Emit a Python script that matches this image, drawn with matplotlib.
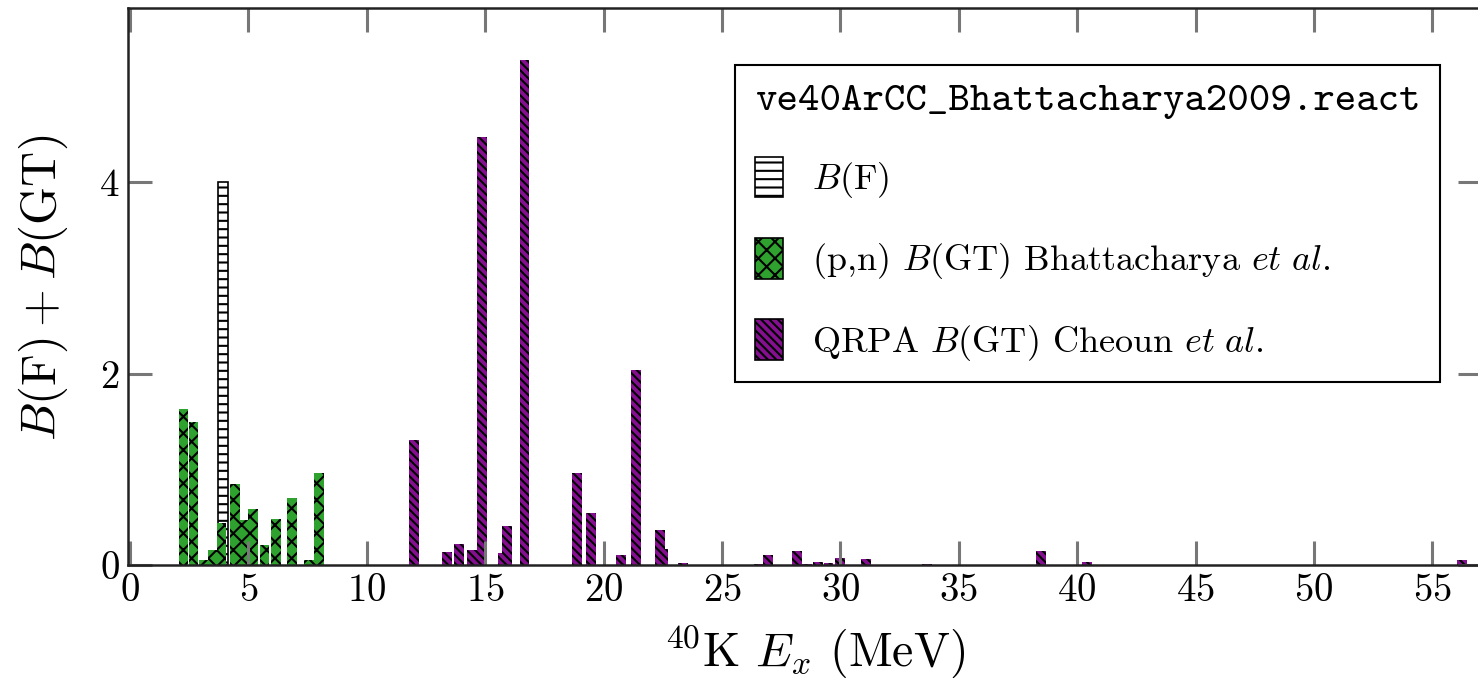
import numpy as np
import matplotlib
matplotlib.use("Agg")
import matplotlib.pyplot as plt
from matplotlib.patches import Patch

plt.rcParams["font.family"] = "serif"
plt.rcParams["font.serif"] = ["cmr10", "DejaVu Serif"]
plt.rcParams["mathtext.fontset"] = "cm"
plt.rcParams["axes.formatter.use_mathtext"] = True
plt.rcParams["hatch.linewidth"] = 1.5

# ---- datos ----
# B(F)
ex_f = [3.94]
b_f = [4.0]

# (p,n) B(GT) Bhattacharya et al.
ex_pn = [2.25, 2.69, 3.11, 3.48, 3.87, 4.43, 4.83, 5.20, 5.68, 6.16, 6.85, 7.55, 7.98]
bgt_pn = [1.63, 1.49, 0.05, 0.16, 0.44, 0.85, 0.47, 0.58, 0.21, 0.48, 0.70, 0.05, 0.96]

# QRPA B(GT) Cheoun et al.
ex_qrpa = [11.99, 13.40, 13.90, 14.44, 14.87, 15.75, 15.94, 16.66, 18.86, 19.45,
           20.75, 21.38, 22.39, 22.52, 23.36, 24.20, 26.58, 26.95, 28.18, 28.60,
           29.07, 29.50, 29.98, 31.10, 33.68, 38.46, 40.40, 49.00, 56.24]
bgt_qrpa = [1.31, 0.14, 0.22, 0.16, 4.47, 0.13, 0.41, 5.28, 0.96, 0.54,
            0.10, 2.04, 0.37, 0.17, 0.02, 0.005, 0.01, 0.10, 0.15, 0.01,
            0.03, 0.02, 0.07, 0.06, 0.014, 0.15, 0.035, 0.005, 0.05]

verde = "#2ea12e"
morado = "#84108f"
ancho = 0.42

fig = plt.figure(figsize=(14.78, 6.84), dpi=100)
ax = fig.add_axes([128 / 1478, 1 - 565 / 684, 1354 / 1478, 557 / 684])

# B(F) primero (blanco), luego verde encima
ax.bar(ex_f, b_f, width=ancho, color="white", edgecolor="black", linewidth=1.2, hatch="--")
ax.bar(ex_pn, bgt_pn, width=ancho * 0.95, color=verde, edgecolor="black", linewidth=0, hatch="xx")

# las barras bajas se dibujan detras de las altas
orden = np.argsort(bgt_qrpa)
ax.bar(np.array(ex_qrpa)[orden], np.array(bgt_qrpa)[orden], width=ancho,
       color=morado, edgecolor="black", linewidth=0, hatch="\\\\\\\\")

ax.set_xlim(-0.085, 57.1)
ax.set_ylim(0, 5.82)
ax.set_xticks(np.arange(0, 56, 5))
ax.set_yticks([0, 2, 4])
ax.tick_params(axis="both", direction="in", length=17, width=2.2, color="#777777",
               labelsize=28, top=True, right=True, pad=6)
for s in ax.spines.values():
    s.set_linewidth(1.8)
    s.set_color("#222222")
ax.spines["right"].set_visible(False)

ax.set_xlabel(r"$^{40}$K $E_x$ (MeV)", fontsize=34.5)
ax.xaxis.set_label_coords((815 - 128) / 1354, -0.105)
ax.set_ylabel(r"$B(\mathrm{F}) + B(\mathrm{GT})$", fontsize=35)
ax.yaxis.set_label_coords(-(128 - 70) / 1354, (565 - 288) / 557)

handles = [
    Patch(facecolor="white", edgecolor="black", hatch="--", linewidth=1.2),
    Patch(facecolor=verde, edgecolor="black", hatch="xx", linewidth=1.2),
    Patch(facecolor=morado, edgecolor="black", hatch="\\\\\\\\", linewidth=1.2),
]
etiquetas = [
    r"$B(\mathrm{F})$",
    r"(p,n) $B$(GT) Bhattacharya $\mathit{et\ al.}$",
    r"QRPA $B$(GT) Cheoun $\mathit{et\ al.}$",
]
leg = ax.legend(handles, etiquetas, loc="upper left",
                bbox_to_anchor=(735 / 1478, 1 - 65 / 684), bbox_transform=fig.transFigure,
                borderaxespad=0,
                title="ve40ArCC_Bhattacharya2009.react",
                title_fontproperties={"family": ["cmtt10", "DejaVu Sans Mono"], "size": 29.5},
                fontsize=26, alignment="left", fancybox=False, framealpha=1,
                edgecolor="black", handlelength=0.78, handleheight=1.35,
                labelspacing=1.05, handletextpad=0.8, borderpad=0.55)
leg.get_frame().set_linewidth(1.5)

plt.savefig("out.png", dpi=100)
